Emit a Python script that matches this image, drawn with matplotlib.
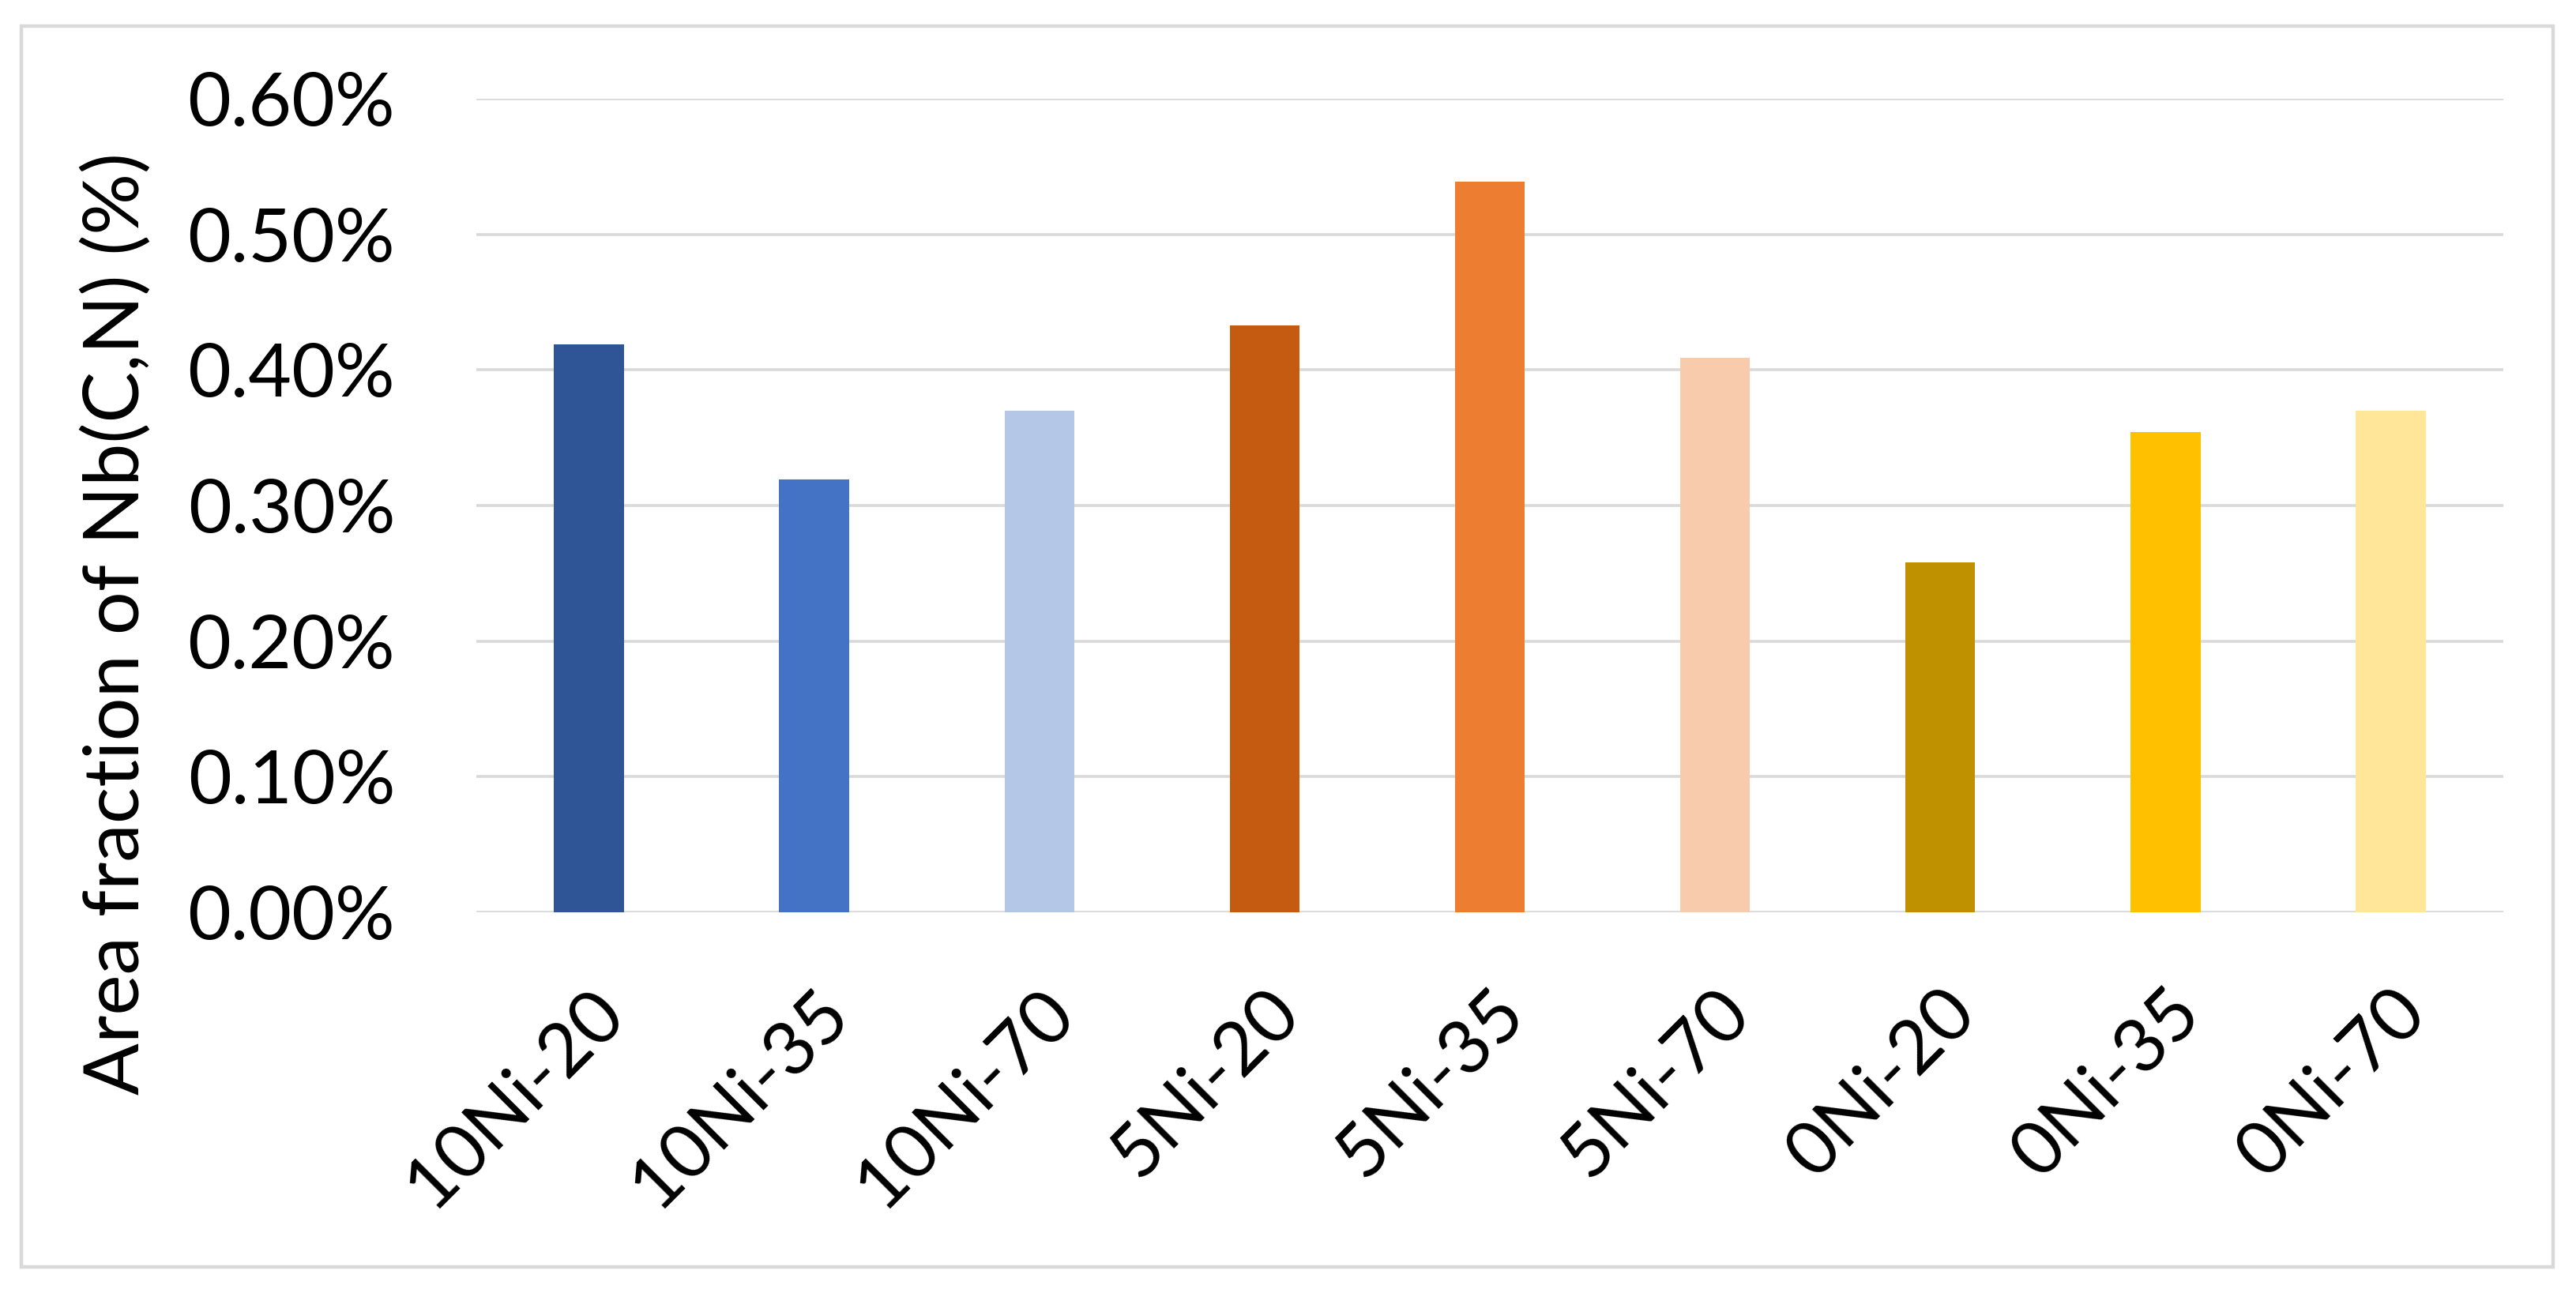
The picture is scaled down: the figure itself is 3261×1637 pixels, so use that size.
import matplotlib
matplotlib.use("Agg")
import matplotlib.pyplot as plt
from matplotlib.patches import Rectangle
from matplotlib.ticker import FuncFormatter
import numpy as np

plt.rcParams['font.family'] = ['Lato', 'DejaVu Sans']

# data (area fraction in %)
samples = ["10Ni-20", "10Ni-35", "10Ni-70", "5Ni-20", "5Ni-35", "5Ni-70",
           "0Ni-20", "0Ni-35", "0Ni-70"]
area_fraction = [0.419, 0.319, 0.370, 0.433, 0.539, 0.409, 0.258, 0.354, 0.370]
bar_colors = ["#2F5597", "#4472C4", "#B4C7E7", "#C55A11", "#ED7D31", "#F8CBAD",
              "#BF9000", "#FFC000", "#FFE699"]
yticks = [0.0, 0.1, 0.2, 0.3, 0.4, 0.5, 0.6]
ylabel = "Area fraction of Nb(C,N) (%)"

W, H = 3262, 1637
dpi = 200
fig = plt.figure(figsize=(W / dpi, H / dpi), dpi=dpi)
fig.patch.set_facecolor("white")

# outer chart frame
fig.add_artist(Rectangle((27 / W, 1 - 1604 / H), (3232 - 27) / W, (1604 - 33) / H,
                         transform=fig.transFigure, fill=False,
                         edgecolor="#D9D9D9", linewidth=1.6))

ax = fig.add_axes([603 / W, 1 - 1155 / H, (3169 - 603) / W, (1155 - 125) / H])

x = np.arange(len(samples))
ax.bar(x, area_fraction, width=0.31, color=bar_colors, zorder=3)

ax.set_xlim(-0.5, len(samples) - 0.5)
ax.set_ylim(0, 0.6)
ax.set_yticks(yticks)
ax.yaxis.set_major_formatter(FuncFormatter(lambda v, p: f"{v:.2f}%"))
ax.grid(axis="y", color="#D9D9D9", linewidth=1.3, zorder=0)
ax.set_axisbelow(True)
for s in ax.spines.values():
    s.set_visible(False)

ax.tick_params(axis="y", length=0, pad=37, labelsize=34, labelcolor="black")
ax.tick_params(axis="x", length=0, pad=30, labelsize=34, labelcolor="black")
ax.set_xticks(x)
ax.set_xticklabels(samples, rotation=45, ha="right", va="top", rotation_mode="anchor")

fig.text(148 / W, 1 - 790 / H, ylabel, rotation=90, ha="center", va="center",
         fontsize=35, color="black")

fig.savefig("out.png", dpi=dpi, facecolor="white")
